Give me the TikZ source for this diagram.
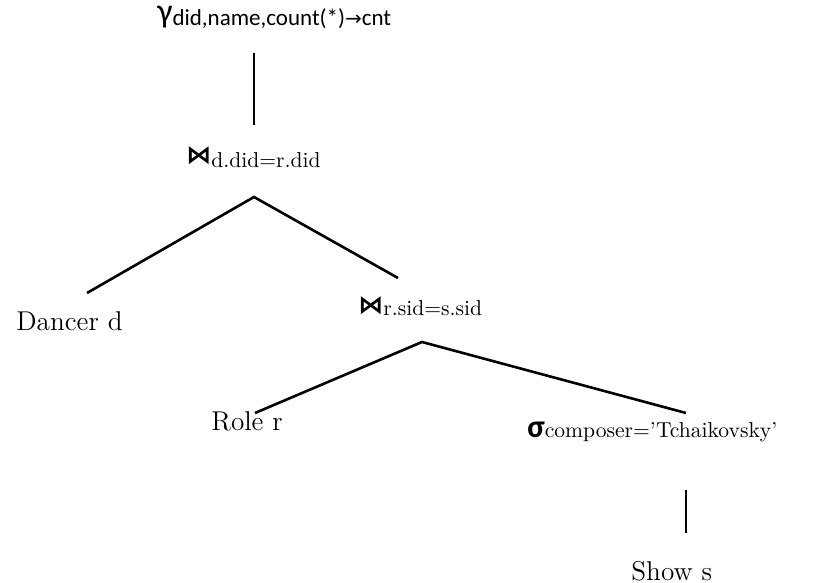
\documentclass[tikz,border=0pt]{standalone}
\usepackage{fontspec}
\newfontfamily\calfont{Carlito}
\newfontfamily\opfont{DejaVu Sans}
\tikzset{
  treeline/.style={line width=1.3pt,black},
  relname/.style={anchor=base west,inner sep=0pt,font=\fontsize{13.6}{16}\selectfont},
  opname/.style={anchor=base west,inner sep=0pt},
}
\newcommand{\subtxt}[1]{{\fontsize{10.8}{12}\selectfont #1}}
\newcommand{\joinsym}{{\opfont\bfseries\fontsize{12.5}{14}\selectfont ⋈}}

\begin{document}
\begin{tikzpicture}[x=0.5pt,y=-0.5pt]
  \useasboundingbox (0,0) rectangle (825,583);

  % operators
  \node[opname] (gam) at (157,23) {{\calfont\fontsize{17}{19}\selectfont γ}\raisebox{-1.5pt}{\calfont\fontsize{11.5}{13}\selectfont did,name,count(*){\opfont\fontsize{10}{12}\selectfont →}cnt}};
  \node[opname] (join1) at (186,163) {\joinsym\raisebox{-2pt}{\subtxt{d.did=r.did}}};
  \node[opname] (join2) at (358,313) {\joinsym\raisebox{-1.5pt}{\subtxt{r.sid=s.sid}}};
  \node[opname] (sel) at (527,437) {{\calfont\bfseries\fontsize{16}{18}\selectfont σ}\subtxt{composer=’Tchaikovsky’}};

  % relations
  \node[relname] (dancer) at (16,330) {Dancer d};
  \node[relname] (role) at (211,430) {Role r};
  \node[relname] (show) at (631,580) {Show s};

  % edges
  \draw[treeline] ([shift={(97,30)}]gam.base west) -- ([shift={(68,-38)}]join1.base west);
  \draw[treeline] ([shift={(71,-37)}]dancer.base west) -- ([shift={(68,34)}]join1.base west)
    -- ([shift={(40,-35)}]join2.base west);
  \draw[treeline] ([shift={(44,-17)}]role.base west) -- ([shift={(64,29)}]join2.base west)
    -- ([shift={(159,-24)}]sel.base west);
  \draw[treeline] ([shift={(159,53)}]sel.base west) -- ([shift={(55,-47)}]show.base west);
\end{tikzpicture}
\end{document}
